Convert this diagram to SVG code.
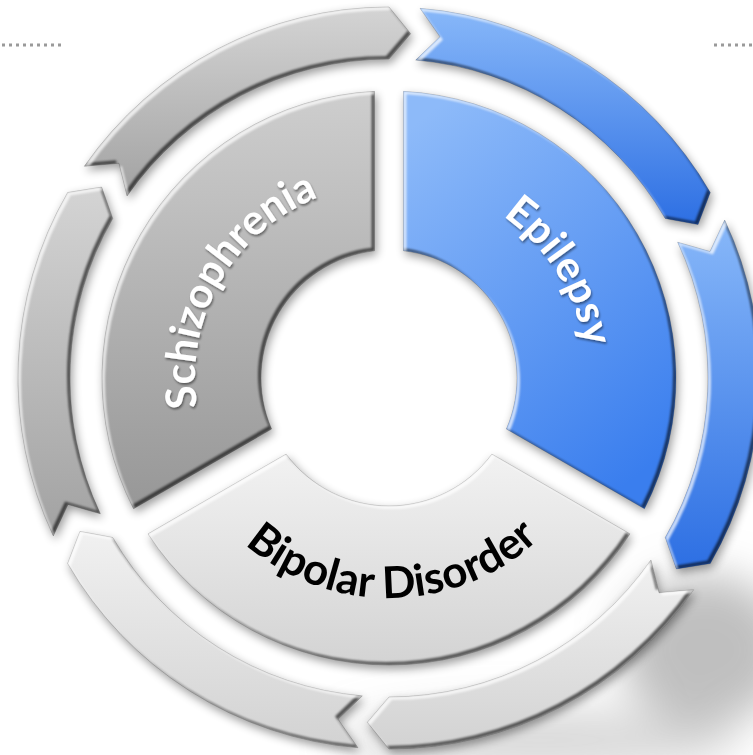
<svg xmlns="http://www.w3.org/2000/svg" width="753" height="755" viewBox="0 0 753 755">
  <defs>
    <style>
      .lbl { font-family: "Lato", "Open Sans", "Liberation Sans", sans-serif; font-weight: 700; }
      .white { fill: #ffffff; }
      .black { fill: #000000; }
      .dots { stroke: #9a9a9a; stroke-width: 3; stroke-dasharray: 3 4; fill: none; }
      .shape { stroke: #000000; stroke-opacity: 0.18; stroke-width: 1; }
    </style>
    <linearGradient id="gGraySeg" x1="0" y1="0" x2="0" y2="1">
      <stop offset="0" stop-color="#cecece"/>
      <stop offset="1" stop-color="#979797"/>
    </linearGradient>
    <linearGradient id="gBlueSeg" x1="0.2" y1="0" x2="0.7" y2="1">
      <stop offset="0" stop-color="#8dbaf9"/>
      <stop offset="1" stop-color="#3a7eee"/>
    </linearGradient>
    <linearGradient id="gLightSeg" x1="0" y1="0" x2="0" y2="1">
      <stop offset="0" stop-color="#f2f2f2"/>
      <stop offset="1" stop-color="#d3d3d3"/>
    </linearGradient>
    <linearGradient id="gGrayArr" x1="0" y1="0" x2="0" y2="1">
      <stop offset="0" stop-color="#d4d4d4"/>
      <stop offset="1" stop-color="#a2a2a2"/>
    </linearGradient>
    <linearGradient id="gBlueArr" x1="0" y1="0" x2="0" y2="1">
      <stop offset="0" stop-color="#88b8f9"/>
      <stop offset="1" stop-color="#2d6fe3"/>
    </linearGradient>
    <linearGradient id="gLightArr" x1="0" y1="0" x2="0" y2="1">
      <stop offset="0" stop-color="#f1f1f1"/>
      <stop offset="1" stop-color="#d2d2d2"/>
    </linearGradient>
    <filter id="bev" filterUnits="userSpaceOnUse" x="-60" y="-60" width="880" height="880" color-interpolation-filters="sRGB">
      <feGaussianBlur in="SourceAlpha" stdDeviation="5" result="b"/>
      <feOffset in="b" dx="2" dy="4" result="ob"/>
      <feComponentTransfer in="ob" result="sh"><feFuncA type="linear" slope="0.4"/></feComponentTransfer>
      <feOffset in="SourceAlpha" dx="-3.5" dy="-3.5" result="o1"/>
      <feComposite in="SourceAlpha" in2="o1" operator="out" result="e1"/>
      <feGaussianBlur in="e1" stdDeviation="1" result="e1b"/>
      <feComposite in="e1b" in2="SourceAlpha" operator="in" result="e1c"/>
      <feFlood flood-color="#000000" flood-opacity="0.62" result="f1"/>
      <feComposite in="f1" in2="e1c" operator="in" result="dark"/>
      <feOffset in="SourceAlpha" dx="3" dy="3" result="o2"/>
      <feComposite in="SourceAlpha" in2="o2" operator="out" result="e2"/>
      <feGaussianBlur in="e2" stdDeviation="0.8" result="e2b"/>
      <feComposite in="e2b" in2="SourceAlpha" operator="in" result="e2c"/>
      <feFlood flood-color="#ffffff" flood-opacity="0.75" result="f2"/>
      <feComposite in="f2" in2="e2c" operator="in" result="light"/>
      <feMerge>
        <feMergeNode in="sh"/>
        <feMergeNode in="SourceGraphic"/>
        <feMergeNode in="dark"/>
        <feMergeNode in="light"/>
      </feMerge>
    </filter>
    <filter id="txtsh" x="-10%" y="-10%" width="120%" height="120%">
      <feDropShadow dx="1" dy="2" stdDeviation="1.2" flood-color="#000" flood-opacity="0.45"/>
    </filter>
    <filter id="blurBig" x="-50%" y="-50%" width="200%" height="200%">
      <feGaussianBlur stdDeviation="22"/>
    </filter>
    <path id="tpSchizo" d="M 199.24,418.33 A 194 194 0 0 1 329.05,193.49"/>
    <path id="tpEpi" d="M 481.96,203.18 A 198 198 0 0 1 586.88,371.09"/>
    <path id="tpBipolar" d="M 200.42,491.31 A 220 220 0 0 0 581.42,484.66"/>
  </defs>

  <rect x="0" y="0" width="753" height="755" fill="#ffffff"/>

  <!-- ambient shadow at lower right -->
  <g id="ambient-shadow" filter="url(#blurBig)">
    <ellipse cx="705" cy="650" rx="85" ry="75" fill="#9c9c9c" opacity="0.65"/>
    <ellipse cx="540" cy="740" rx="200" ry="30" fill="#b0b0b0" opacity="0.5"/>
  </g>

  <!-- dotted decorations -->
  <line class="dots" x1="2" y1="45" x2="64" y2="45"/>
  <line class="dots" x1="714" y1="45" x2="753" y2="45"/>

  <!-- outer cycle arrows -->
  <g id="connectors">
    <path id="arrow-gray-top" class="shape" filter="url(#bev)" fill="url(#gGrayArr)" d="M 84.35,166.27 A 371 371 0 0 1 389,7 L 410.66,33.68 L 389,59 A 319 319 0 0 0 127.05,195.94 L 119,163.23 Z"/>
    <path id="arrow-blue-top" class="shape" filter="url(#bev)" fill="url(#gBlueArr)" d="M 420.05,8.30 A 371 371 0 0 1 710.30,192.50 L 698.04,224.59 L 665.26,218.50 A 319 319 0 0 0 415.69,60.12 L 440,36.79 Z"/>
    <path id="arrow-blue-right" class="shape" filter="url(#bev)" fill="url(#gBlueArr)" d="M 724.69,220.04 A 371 371 0 0 1 710.30,563.50 L 676.36,568.92 L 665.26,537.50 A 319 319 0 0 0 677.64,242.18 L 710,251.56 Z"/>
    <path id="arrow-light-right" class="shape" filter="url(#bev)" fill="url(#gLightArr)" d="M 693.65,589.73 A 371 371 0 0 1 389,749 L 367.34,722.32 L 389,697 A 319 319 0 0 0 650.95,560.06 L 659,592.77 Z"/>
    <path id="arrow-light-left" class="shape" filter="url(#bev)" fill="url(#gLightArr)" d="M 357.95,747.70 A 371 371 0 0 1 67.70,563.50 L 79.96,531.41 L 112.74,537.50 A 319 319 0 0 0 362.31,695.88 L 338,719.21 Z"/>
    <path id="arrow-gray-left" class="shape" filter="url(#bev)" fill="url(#gGrayArr)" d="M 53.31,535.96 A 371 371 0 0 1 67.70,192.50 L 101.64,187.08 L 112.74,218.50 A 319 319 0 0 0 100.36,513.82 L 68,504.44 Z"/>
  </g>

  <!-- inner segments -->
  <g id="node-schizophrenia">
    <path class="shape" filter="url(#bev)" fill="url(#gGraySeg)" d="M 133.52,508.76 A 287 287 0 0 1 374.5,91.37 L 374.5,250.82 A 128 128 0 0 0 271.61,429.03 Z"/>
    <text class="lbl white" font-size="42" filter="url(#txtsh)"><textPath href="#tpSchizo" startOffset="50%" text-anchor="middle" textLength="262" lengthAdjust="spacing">Schizophrenia</textPath></text>
  </g>
  <g id="node-epilepsy">
    <path class="shape" filter="url(#bev)" fill="url(#gBlueSeg)" d="M 403.5,91.37 A 287 287 0 0 1 644.48,508.76 L 506.39,429.03 A 128 128 0 0 0 403.5,250.82 Z"/>
    <text class="lbl white" font-size="42" filter="url(#txtsh)"><textPath href="#tpEpi" startOffset="50%" text-anchor="middle" textLength="158" lengthAdjust="spacing">Epilepsy</textPath></text>
  </g>
  <g id="node-bipolar">
    <path class="shape" filter="url(#bev)" fill="url(#gLightSeg)" d="M 629.98,533.88 A 287 287 0 0 1 148.02,533.88 L 286.11,454.15 A 128 128 0 0 0 491.89,454.15 Z"/>
    <text class="lbl black" font-size="44"><textPath href="#tpBipolar" startOffset="50%" text-anchor="middle" textLength="322" lengthAdjust="spacing">Bipolar Disorder</textPath></text>
  </g>
</svg>
